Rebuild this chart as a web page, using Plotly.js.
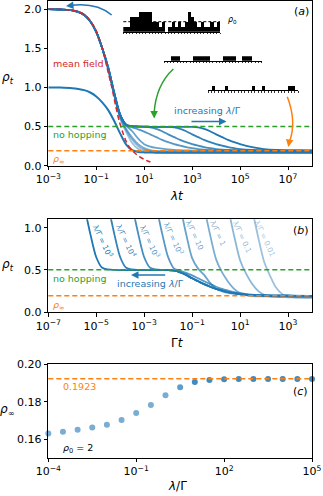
<!DOCTYPE html>
<html><head><meta charset="utf-8">
<script src="https://cdn.plot.ly/plotly-3.0.1.min.js"></script>
<style>html,body{margin:0;padding:0;background:#fff}</style>
</head><body><div id="chart" style="width:323px;height:496px"></div>
<script>
// ---------------- data ----------------
const logLambdaT = [-3,-2.5,-2,-1.75,-1.5,-1.25,-1,-0.75,-0.5,-0.25,0,0.25,0.5,0.75,1,1.25,1.5,1.75,2,2.25,2.5,2.75,3,3.25,3.5,3.75,4,4.25,4.5,4.75,5,5.5,6,6.5,7,7.5,8,9];
const ratios = [1e5, 1e4, 1e3, 1e2, 10, 1, 0.1, 0.01];
const ratioLabels = ['λ/Γ = 10<sup>5</sup>','λ/Γ = 10<sup>4</sup>','λ/Γ = 10<sup>3</sup>','λ/Γ = 10<sup>2</sup>','λ/Γ = 10','λ/Γ = 1','λ/Γ = 0.1','λ/Γ = 0.01'];
const rho_1e5 = [2.0,1.995,1.985,1.965,1.925,1.845,1.71,1.50,1.25,0.93,0.65,0.525,0.505,0.50,0.498,0.497,0.497,0.497,0.497,0.497,0.497,0.497,0.496,0.49,0.47,0.44,0.40,0.365,0.33,0.30,0.275,0.237,0.213,0.201,0.196,0.194,0.193,0.1921];
const rho_1e4 = [2.0,1.995,1.985,1.965,1.925,1.845,1.71,1.50,1.25,0.93,0.65,0.525,0.505,0.50,0.498,0.497,0.497,0.497,0.496,0.49,0.47,0.44,0.40,0.365,0.33,0.30,0.275,0.255,0.237,0.224,0.213,0.201,0.196,0.194,0.193,0.1921,0.1921,0.1921];
const rho_1e3 = [2.0,1.995,1.985,1.965,1.925,1.845,1.71,1.50,1.25,0.93,0.65,0.525,0.505,0.50,0.496,0.49,0.47,0.44,0.40,0.365,0.33,0.30,0.275,0.255,0.237,0.224,0.213,0.206,0.201,0.198,0.196,0.194,0.193,0.1921,0.1921,0.1921,0.1921,0.1921];
const rho_1e2 = [2.0,1.995,1.985,1.965,1.925,1.845,1.71,1.50,1.25,0.93,0.65,0.515,0.49,0.465,0.435,0.40,0.365,0.33,0.30,0.275,0.255,0.237,0.224,0.213,0.206,0.201,0.198,0.196,0.195,0.194,0.193,0.192,0.192,0.192,0.192,0.192,0.192,0.192];
const rho_1e1 = [2.0,1.995,1.985,1.965,1.925,1.845,1.71,1.50,1.25,0.925,0.64,0.515,0.44,0.345,0.275,0.245,0.228,0.217,0.208,0.202,0.198,0.195,0.193,0.192,0.191,0.1905,0.1905,0.1905,0.1905,0.1905,0.1905,0.1905,0.1905,0.1905,0.1905,0.1905,0.1905,0.1905];
const rho_1e0 = [2.0,1.995,1.985,1.965,1.925,1.845,1.71,1.50,1.24,0.915,0.625,0.47,0.36,0.275,0.225,0.20,0.19,0.186,0.185,0.184,0.1834,0.1834,0.1834,0.1834,0.1834,0.1834,0.1834,0.1834,0.1834,0.1834,0.1834,0.1834,0.1834,0.1834,0.1834,0.1834,0.1834,0.1834];
const rho_1em1 = [2.0,1.995,1.985,1.965,1.925,1.845,1.71,1.50,1.23,0.905,0.615,0.455,0.335,0.25,0.205,0.187,0.179,0.176,0.175,0.1745,0.1739,0.1739,0.1739,0.1739,0.1739,0.1739,0.1739,0.1739,0.1739,0.1739,0.1739,0.1739,0.1739,0.1739,0.1739,0.1739,0.1739,0.1739];
const rho_1em2 = [2.0,1.995,1.985,1.965,1.925,1.845,1.71,1.50,1.22,0.895,0.60,0.43,0.29,0.215,0.185,0.174,0.17,0.169,0.168,0.1678,0.1677,0.1677,0.1677,0.1677,0.1677,0.1677,0.1677,0.1677,0.1677,0.1677,0.1677,0.1677,0.1677,0.1677,0.1677,0.1677,0.1677,0.1677];
const rhoByRatio = [rho_1e5, rho_1e4, rho_1e3, rho_1e2, rho_1e1, rho_1e0, rho_1em1, rho_1em2];
const rho_start1 = [1.0,0.998,0.99,0.98,0.965,0.935,0.885,0.81,0.71,0.57,0.41,0.27,0.198,0.176,0.17,0.168,0.167,0.167,0.167,0.167,0.167,0.167,0.167,0.167,0.167,0.167,0.167,0.167,0.167,0.167,0.167,0.167,0.167,0.167,0.167,0.167,0.167,0.167];
const meanFieldLogLt = [-3,-2,-1.5,-1.2,-1,-0.75,-0.5,-0.35,-0.2,-0.05,0.1,0.25,0.4,0.6,0.8,1.0,1.15,1.32];
const meanFieldRho = [2.0,1.985,1.93,1.83,1.72,1.50,1.19,1.0,0.78,0.58,0.43,0.31,0.23,0.165,0.115,0.08,0.06,0.04];
const noHopping = 0.5;
const rhoInf = 0.1923;
const rho0 = 2;
// panel (c)
const cLogRatio = [-4,-3.5,-3,-2.5,-2,-1.5,-1,-0.5,0,0.5,1,1.5,2,2.5,3,3.5,4,4.5,5];
const cRhoInf = [0.1630,0.1639,0.1650,0.1662,0.1677,0.1702,0.1739,0.1782,0.1834,0.1877,0.1905,0.1916,0.1920,0.1921,0.1921,0.1921,0.1921,0.1921,0.1921];
// lattice sketches (site occupations)
const siteInitial = [1,1,3,3,3,4,4,4,4,2,2,1,2,0,1,2,1,2,1,2,4,3,2,1,2,1,1,2,1,2];
const siteNoHop = [0,0,1,1,1,0,0,0,0,1,1,1,1,1,0,0,0,0,1,1,1,1,0,0,1,1,1,0,0,0];
const siteFinal = [0,1,0,0,0,1,0,0,0,0,0,0,0,1,0,0,1,0,0,0,0,0,0,0,1,1,0];
// ticks
const aTickVals = [1e-3,1e-1,1e1,1e3,1e5,1e7];
const aTickText = ['10<sup>−3</sup>','10<sup>−1</sup>','10<sup>1</sup>','10<sup>3</sup>','10<sup>5</sup>','10<sup>7</sup>'];
const bTickVals = [1e-7,1e-5,1e-3,1e-1,1e1,1e3];
const bTickText = ['10<sup>−7</sup>','10<sup>−5</sup>','10<sup>−3</sup>','10<sup>−1</sup>','10<sup>1</sup>','10<sup>3</sup>'];
const cTickVals = [1e-4,1e-1,1e2,1e5];
const cTickText = ['10<sup>−4</sup>','10<sup>−1</sup>','10<sup>2</sup>','10<sup>5</sup>'];

// ---------------- helpers ----------------
const W = 323, H = 496;
const px = x => x / W;
const py = y => 1 - y / H;
const C0 = a => `rgba(31,119,180,${a})`;
const ratioAlpha = [1, 0.92, 0.84, 0.76, 0.68, 0.6, 0.52, 0.45];
const GREEN = '#2ca02c', ORANGE = '#ff7f0e', RED = '#d62728';
const lambdaT = logLambdaT.map(v => Math.pow(10, v));

const traces = [];
// panel (a)
for (let i = ratios.length - 1; i >= 0; i--) {
  traces.push({x: lambdaT, y: rhoByRatio[i], xaxis:'x', yaxis:'y', type:'scatter', mode:'lines',
    line:{color:C0(ratioAlpha[i]), width:1.8, shape:'spline', smoothing:0.8}, hoverinfo:'skip'});
}
traces.push({x: lambdaT, y: rho_start1, xaxis:'x', yaxis:'y', mode:'lines',
  line:{color:C0(1), width:2, shape:'spline', smoothing:0.8}, hoverinfo:'skip'});
traces.push({x: meanFieldLogLt.map(v => Math.pow(10, v)), y: meanFieldRho, xaxis:'x', yaxis:'y', mode:'lines',
  line:{color:RED, width:1.5, dash:'5px,3px', shape:'spline', smoothing:0.8}, hoverinfo:'skip'});
// panel (b)
for (let i = ratios.length - 1; i >= 0; i--) {
  traces.push({x: lambdaT.map(v => v / ratios[i]), y: rhoByRatio[i], xaxis:'x2', yaxis:'y2', mode:'lines',
    line:{color:C0(ratioAlpha[i]), width:1.8, shape:'spline', smoothing:0.8}, hoverinfo:'skip'});
}
// panel (c)
traces.push({x: cLogRatio.map(v => Math.pow(10, v)), y: cRhoInf, xaxis:'x3', yaxis:'y3', mode:'markers',
  cliponaxis:false,
  marker:{size:6, color:C0(1), opacity: cLogRatio.map((v,k) => k < 9 ? 0.6 : (k === 9 ? 0.72 : 0.85))}, hoverinfo:'skip'});
// lattice sketches
traces.push({type:'bar', x: siteInitial.map((v,k)=>k), y: siteInitial, xaxis:'x4', yaxis:'y4', marker:{color:'black', line:{width:0}}, hoverinfo:'skip'});
traces.push({type:'bar', x: siteNoHop.map((v,k)=>k), y: siteNoHop, xaxis:'x5', yaxis:'y5', marker:{color:'black', line:{width:0}}, hoverinfo:'skip'});
traces.push({type:'bar', x: siteFinal.map((v,k)=>k), y: siteFinal, xaxis:'x6', yaxis:'y6', marker:{color:'black', line:{width:0}}, hoverinfo:'skip'});

const axisCommon = {showline:true, mirror:true, linecolor:'black', linewidth:1, ticks:'outside', ticklen:3.5,
  tickwidth:1, tickcolor:'black', showgrid:false, zeroline:false,
  tickfont:{size:11, color:'black', family:'DejaVu Sans'}};
const xDom = [px(48.3), px(312)];
const sketchX = (d0, d1, n, anchor) => ({domain:[px(d0), px(d1)], range:[-0.5, n - 0.5], anchor, showline:true,
  linecolor:'black', linewidth:1, ticks:'outside', ticklen:1.5, tickwidth:0.8, tickcolor:'black',
  tickmode:'linear', tick0:-0.5, dtick:1, showticklabels:false, showgrid:false, zeroline:false, fixedrange:true});
const sketchY = (b, t, top, anchor) => ({domain:[py(b), py(t)], range:[0, top], anchor, visible:false, fixedrange:true});

const hline = (xr, yr, y, color) => ({type:'line', xref: xr + ' domain', yref: yr, x0:0, x1:1, y0:y, y1:y,
  line:{color, width:1.5, dash:'5px,3px'}});
const curve = (x1,y1,cx,cy,x2,y2,color) => ({type:'path', xref:'paper', yref:'paper',
  path:`M ${px(x1)},${py(y1)} Q ${px(cx)},${py(cy)} ${px(x2)},${py(y2)}`, line:{color, width:1.5}});
const head = (hx,hy,tx,ty,color) => ({x:px(hx), y:py(hy), xref:'paper', yref:'paper', axref:'pixel', ayref:'pixel',
  ax: tx-hx, ay: ty-hy, text:'', showarrow:true, arrowhead:2, arrowsize:1, arrowwidth:1.5, arrowcolor:color, standoff:0});
const txt = (text, x, y, size, color, xanchor, angle) => ({text, x:px(x), y:py(y), xref:'paper', yref:'paper',
  showarrow:false, xanchor: xanchor || 'center', yanchor:'middle', textangle: angle || 0,
  font:{size, color, family:'DejaVu Sans'}});

const shapes = [
  hline('x','y', noHopping, GREEN), hline('x','y', rhoInf, ORANGE),
  hline('x2','y2', noHopping, GREEN), hline('x2','y2', rhoInf, ORANGE),
  hline('x3','y3', rhoInf, ORANGE),
  {type:'line', xref:'x4 domain', yref:'y4', x0:0, x1:1, y0:rho0, y1:rho0, line:{color:'black', width:1, dash:'3px,2px'}},
  curve(111.7,15, 96,2, 70,5.6, C0(1)),
  curve(173.3,69, 156,85, 154.1,113, GREEN),
  curve(287.3,96.7, 297,122, 289.3,142, ORANGE)
];

const ratioPos = [[103.3,240.7],[126.7,240.7],[150,240.7],[173.3,238.3],[195,235],[218.3,233],[241.7,236.7],[265,238]];
const annotations = [
  txt('(<i>a</i>)', 301.7, 12, 11, 'black'),
  txt('(<i>b</i>)', 300.5, 230.7, 11, 'black'),
  txt('(<i>c</i>)', 300, 391.7, 11, 'black'),
  txt('mean field', 51, 63.3, 9.5, RED, 'left'),
  txt('no hopping', 51, 134, 9.5, GREEN, 'left'),
  txt('<i>ρ</i><sub>∞</sub>', 51, 160, 9.5, ORANGE, 'left'),
  txt('increasing <i>λ</i>/Γ', 172.5, 110, 9.5, C0(1), 'left'),
  txt('no hopping', 51, 278.3, 9.5, GREEN, 'left'),
  txt('<i>ρ</i><sub>∞</sub>', 51, 305, 9.5, ORANGE, 'left'),
  txt('increasing <i>λ</i>/Γ', 115, 283.3, 9.5, C0(1), 'left'),
  txt('0.1923', 60.7, 386.7, 9.5, ORANGE, 'left'),
  txt('<i>ρ</i><sub>0</sub> = 2', 60.7, 448.3, 9.5, 'black', 'left'),
  txt('<i>ρ</i><sub>0</sub>', 225.5, 20, 8, 'black', 'left'),
  txt('<i>λt</i>', 177, 195.5, 12, 'black'),
  txt('Γ<i>t</i>', 177, 343, 12, 'black'),
  txt('<i>λ</i>/Γ', 177, 486, 12, 'black'),
  txt('<i>ρ</i><sub><i>t</i></sub>', 7.5, 78.3, 12, 'black'),
  txt('<i>ρ</i><sub><i>t</i></sub>', 7.5, 265, 12, 'black'),
  txt('<i>ρ</i><sub>∞</sub>', 7, 410, 12, 'black'),
  head(66,6, 72,5.4, C0(1)),
  head(154.2,118.5, 154.1,111, GREEN),
  head(288.3,147, 289.6,140, ORANGE),
  head(226.5,121.5, 190,121.5, C0(1)),
  head(131,275, 166.7,275, C0(1))
];
ratioLabels.forEach((t,i) => annotations.push(txt(t, ratioPos[i][0], ratioPos[i][1], 7.5, C0(ratioAlpha[i]), 'center', 65)));

const layout = {
  width:W, height:H, margin:{l:0,r:0,t:0,b:0}, paper_bgcolor:'white', plot_bgcolor:'white',
  showlegend:false, hovermode:false, bargap:0,
  font:{family:'DejaVu Sans', size:11, color:'black'},
  xaxis: Object.assign({}, axisCommon, {type:'log', range:[-3,8], domain:xDom, anchor:'y', tickmode:'array', tickvals:aTickVals, ticktext:aTickText}),
  yaxis: Object.assign({}, axisCommon, {range:[0,2.1], domain:[py(165.7), py(1.3)], anchor:'x', tickmode:'array', tickvals:[0,0.5,1,1.5,2], ticktext:['0.0','0.5','1.0','1.5','2.0']}),
  xaxis2: Object.assign({}, axisCommon, {type:'log', range:[-7,4], domain:xDom, anchor:'y2', tickmode:'array', tickvals:bTickVals, ticktext:bTickText}),
  yaxis2: Object.assign({}, axisCommon, {range:[0,1.1], domain:[py(312), py(219.3)], anchor:'x2', tickmode:'array', tickvals:[0,0.5,1], ticktext:['0.0','0.5','1.0']}),
  xaxis3: Object.assign({}, axisCommon, {type:'log', range:[-4,5], domain:xDom, anchor:'y3', tickmode:'array', tickvals:cTickVals, ticktext:cTickText}),
  yaxis3: Object.assign({}, axisCommon, {range:[0.15,0.2], domain:[py(457.7), py(364.3)], anchor:'x3', tickmode:'array', tickvals:[0.16,0.18,0.2], ticktext:['0.16','0.18','0.20']}),
  xaxis4: sketchX(123.3, 220, siteInitial.length, 'y4'),
  yaxis4: sketchY(31.7, 10.7, 4.2, 'x4'),
  xaxis5: sketchX(164, 261.7, siteNoHop.length, 'y5'),
  yaxis5: sketchY(60.7, 56.2, 1, 'x5'),
  xaxis6: sketchX(208.3, 298.3, siteFinal.length, 'y6'),
  yaxis6: sketchY(90, 85.5, 1, 'x6'),
  shapes, annotations
};
Plotly.newPlot('chart', traces, layout, {staticPlot:true, displayModeBar:false});
</script></body></html>
